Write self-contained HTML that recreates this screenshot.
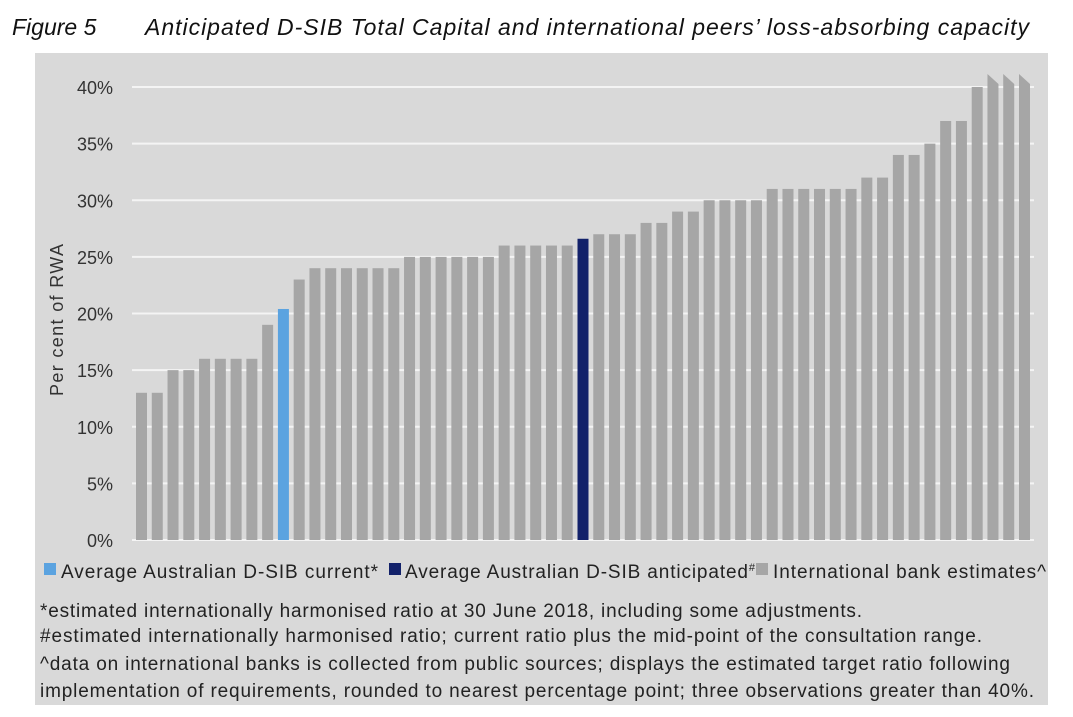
<!DOCTYPE html>
<html><head><meta charset="utf-8">
<style>
body{margin:0;width:1073px;height:717px;background:#fff;font-family:"Liberation Sans",sans-serif;overflow:hidden}
svg{display:block}
</style></head>
<body>
<svg id="c" width="1073" height="717" xmlns="http://www.w3.org/2000/svg">
<text x="12" y="35" font-size="23" font-style="italic" fill="#111">Figure 5</text>
<text x="145" y="35" font-size="23" font-style="italic" fill="#111" textLength="884">Anticipated D-SIB Total Capital  and international peers’ loss-absorbing capacity</text>
<rect x="35" y="53" width="1013" height="652" fill="#d9d9d9"/>
<g id="grid"></g>
<g id="bars"></g>
<text transform="translate(63,320) rotate(-90)" text-anchor="middle" font-size="18" fill="#333" textLength="152">Per cent of RWA</text>
<g font-size="19" fill="#222">
<rect x="44" y="563" width="12" height="12" fill="#5ba3e0"/>
<text x="61" y="578" textLength="317">Average Australian D-SIB current*</text>
<rect x="389" y="563" width="12" height="12" fill="#12216a"/>
<text x="405" y="578" textLength="350">Average Australian D-SIB anticipated<tspan font-size="11" dy="-7">#</tspan></text>
<rect x="756" y="563" width="12" height="12" fill="#a6a6a6"/>
<text x="773" y="578" textLength="273">International bank estimates^</text>
</g>
<g font-size="19" fill="#222">
<text x="40" y="617" textLength="822">*estimated internationally harmonised ratio at 30 June 2018, including some adjustments.</text>
<text x="40" y="642" textLength="942">#estimated internationally harmonised ratio; current ratio plus the mid-point of the consultation range.</text>
<text x="40" y="670" textLength="970">^data on international banks is collected from public sources; displays the estimated target ratio following</text>
<text x="40" y="697" textLength="994">implementation of requirements, rounded to nearest percentage point; three observations greater than 40%.</text>
</g>
</svg>
<script>
const values=[13,13,15,15,16,16,16,16,19,20.4,23,24,24,24,24,24,24,25,25,25,25,25,25,26,26,26,26,26,26.6,27,27,27,28,28,29,29,30,30,30,30,31,31,31,31,31,31,32,32,34,34,35,37,37,40,45,45,45];
const kinds=["i","i","i","i","i","i","i","i","i","current","i","i","i","i","i","i","i","i","i","i","i","i","i","i","i","i","i","i","anticipated","i","i","i","i","i","i","i","i","i","i","i","i","i","i","i","i","i","i","i","i","i","i","i","i","i","i","i","i"];
const yTicks=[0,5,10,15,20,25,30,35,40];
const tickLabels=["0%","5%","10%","15%","20%","25%","30%","35%","40%"];
const NS="http://www.w3.org/2000/svg";
const y0=540,y40=87,yMax=40;
function y(v){return y0-(y0-y40)*v/yMax;}
const left=136,right=1030,bw=11;
const pitch=(right-bw-left)/(values.length-1);
function x(i){return left+i*pitch;}
const grid=document.getElementById('grid');
yTicks.forEach((t,k)=>{
  const l=document.createElementNS(NS,'line');
  l.setAttribute('x1',132);l.setAttribute('x2',1034);
  l.setAttribute('y1',y(t));l.setAttribute('y2',y(t));
  l.setAttribute('stroke','#f4f4f4');l.setAttribute('stroke-width',2);
  
  
  grid.appendChild(l);
  const tx=document.createElementNS(NS,'text');
  tx.setAttribute('x',113);tx.setAttribute('y',y(t)+7);
  tx.setAttribute('text-anchor','end');tx.setAttribute('font-size','18');tx.setAttribute('fill','#333');
  tx.textContent=tickLabels[k];
  
  
  grid.appendChild(tx);
});
const colors={i:"#a6a6a6",current:"#5ba3e0",anticipated:"#12216a"};
const bars=document.getElementById('bars');
values.forEach((v,i)=>{
  const xl=x(i);
  let el;
  if(v>yMax){
    el=document.createElementNS(NS,'polygon');
    const yt1=y(yMax)-13,yt2=y(yMax)-3;
    el.setAttribute('points',`${xl},${y0} ${xl},${yt1} ${xl+bw},${yt2} ${xl+bw},${y0}`);
  }else{
    el=document.createElementNS(NS,'rect');
    el.setAttribute('x',xl);el.setAttribute('y',y(v));
    el.setAttribute('width',bw);el.setAttribute('height',y0-y(v));
  }
  el.setAttribute('fill',colors[kinds[i]]);
  
  
  bars.appendChild(el);
});
</script>
</body></html>
